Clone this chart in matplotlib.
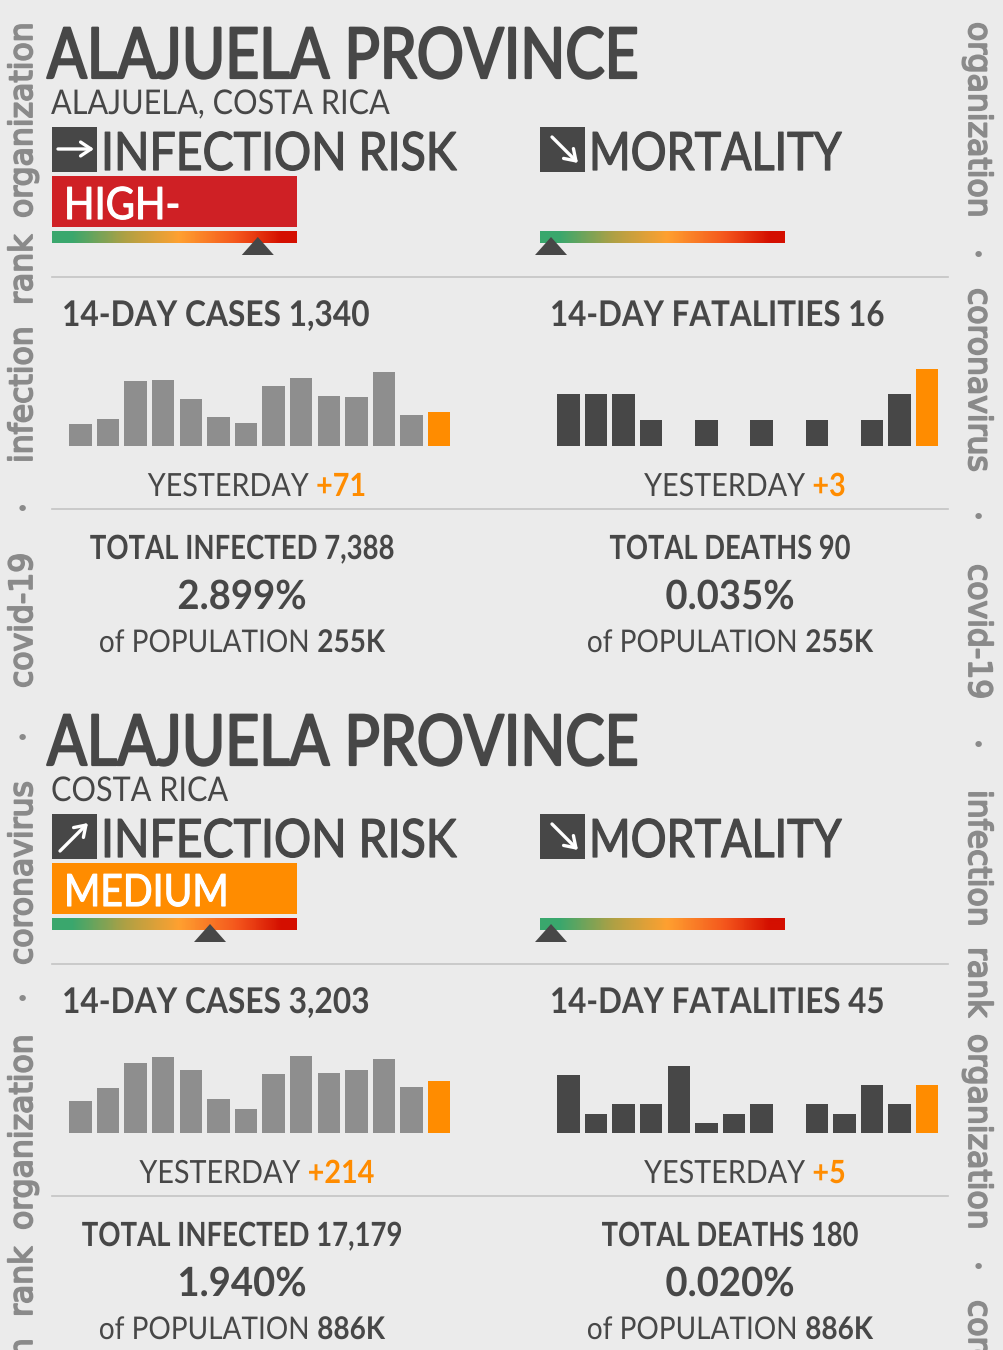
import matplotlib
matplotlib.use("Agg")
import matplotlib.pyplot as plt
import matplotlib.patheffects as pe
from matplotlib.colors import LinearSegmentedColormap
from matplotlib.patches import Polygon, Rectangle
from matplotlib.transforms import Affine2D
import numpy as np

W, H = 1004, 1350
BG = "#ebebeb"
DARK = "#474747"
GREY = "#8e8e8e"
ORANGE = "#ff8c00"
RED = "#cf2025"
RULE = "#c4c4c4"
SIDE = "#8a8a8a"

cases_a = [46, 55, 136, 137, 98, 60, 48, 125, 142, 104, 101, 153, 64, 71]
deaths_a = [2, 2, 2, 1, 0, 1, 0, 1, 0, 1, 0, 1, 2, 3]
cases_b = [130, 185, 289, 316, 261, 142, 99, 246, 320, 247, 260, 306, 188, 214]
deaths_b = [6, 2, 3, 3, 7, 1, 2, 3, 0, 3, 2, 5, 3, 5]

# risk marker position along the gradient bar, 0 to 1
risk_a = [0.84, 0.045]
risk_b = [0.645, 0.045]

plt.rcParams["font.family"] = ["Lato", "DejaVu Sans"]
SIDE_FONT = ["DejaVu Sans"]

fig = plt.figure(figsize=(W / 100, H / 100), dpi=100, facecolor=BG)
page = fig.add_axes([0, 0, 1, 1])
page.set_xlim(0, W)
page.set_ylim(H, 0)
page.axis("off")
renderer = fig.canvas.get_renderer()

grad = LinearSegmentedColormap.from_list(
    "risk", [(0, "#3aa76d"), (0.08, "#3aa76d"), (0.3, "#b0a044"), (0.52, "#ffa030"),
             (0.76, "#f4551c"), (0.94, "#d40f00"), (1, "#d40f00")])


class Squeezed(pe.AbstractPathEffect):
    # no condensed face is installed, so narrow the glyphs along the text direction
    def __init__(self, sx, stroke=0.0, color=None):
        super().__init__()
        self.sx = sx
        self.stroke = stroke
        self.color = color

    def draw_path(self, rend, gc, tpath, affine, rgbFace=None):
        m = affine.get_matrix().copy()
        m[0:2, 0] *= self.sx
        squeezed = Affine2D(m)
        if self.stroke:
            gc0 = rend.new_gc()
            gc0.copy_properties(gc)
            gc0.set_linewidth(self.stroke)
            gc0.set_foreground(self.color)
            rend.draw_path(gc0, tpath, squeezed, rgbFace)
            gc0.restore()
        rend.draw_path(gc, tpath, squeezed, rgbFace)


def label(x, y, s, size, sx=1.0, color=DARK, center=False, weight="normal", stroke=0.0):
    t = page.text(x, y, s, fontsize=size, color=color, va="baseline", weight=weight)
    t.set_path_effects([Squeezed(sx, stroke, color)])
    width = t.get_window_extent(renderer).width * sx
    if center:
        t.set_x(x - width / 2)
    return width


def pair(cx, y, left, right, right_color, size, sx):
    # two pieces of text centred together on cx
    wa = label(0, y, left + " ", size, sx)
    wb = label(0, y, right, size, sx, color=right_color, weight="bold")
    a, b = page.texts[-2:]
    x0 = cx - (wa + wb) / 2
    a.set_x(x0)
    b.set_x(x0 + wa)


def bars(x0, base, values, color, top_px):
    pitch = 27.6
    ax = fig.add_axes([(x0 - 2.65) / W, 1 - base / H, 14 * pitch / W, top_px / H])
    ax.set_xlim(-0.5, 13.5)
    ax.set_ylim(0, max(values))
    ax.axis("off")
    colors = [color] * 13 + [ORANGE]
    ax.bar(range(14), values, width=0.81, color=colors)


def gauge(x, y, frac):
    page.imshow(np.linspace(0, 1, 245).reshape(1, -1), cmap=grad, aspect="auto",
                extent=(x, x + 245, y + 12, y), zorder=2)
    mx = x + 245 * frac
    page.add_patch(Polygon([(mx - 16, y + 24), (mx, y + 6), (mx + 16, y + 24)],
                           facecolor=DARK, lw=0, zorder=3))


def icon(x, y, start, end):
    page.add_patch(Rectangle((x, y), 45, 45, facecolor=DARK, lw=0))
    page.annotate("", xy=(x + end[0], y + end[1]), xytext=(x + start[0], y + start[1]),
                  arrowprops=dict(arrowstyle="->,head_length=0.75,head_width=0.5", color="white", lw=2.4,
                                  shrinkA=0, shrinkB=0))


def panel(y, sub, arrow, level, level_sx, level_color, risk, cases, deaths, c_total, d_total,
          yest_c, yest_d, tot_i, pct_i, tot_d, pct_d, pop):
    label(47, y + 78, "ALAJUELA PROVINCE", 50.5, 0.84, stroke=1.6)
    label(51, y + 114, sub, 24.5, 0.9)
    icon(52, y + 127, *arrow)
    label(101, y + 170, "INFECTION RISK", 38, 0.88, stroke=0.9)
    icon(540, y + 127, (12, 10), (38, 36))
    label(589, y + 170, "MORTALITY", 38, 0.85, stroke=0.9)
    page.add_patch(Rectangle((52, y + 176), 245, 51, facecolor=level_color, lw=0))
    label(64, y + 219, level, 32, level_sx, color="white", stroke=0.8)
    gauge(52, y + 231, risk[0])
    gauge(540, y + 231, risk[1])
    page.plot([52, 948], [y + 277, y + 277], color=RULE, lw=1.2)
    label(62, y + 326, c_total, 25.5, 0.895, weight="bold")
    label(550, y + 326, d_total, 25.5, 0.885, weight="bold")
    bars(69.3, y + 445.7, cases[0], GREY, cases[1])
    bars(557.3, y + 445.7, deaths[0], DARK, deaths[1])
    pair(257, y + 496, "YESTERDAY", yest_c, ORANGE, 23, 0.9)
    pair(745, y + 496, "YESTERDAY", yest_d, ORANGE, 23, 0.9)
    page.plot([52, 948], [y + 509, y + 509], color=RULE, lw=1.2)
    label(242, y + 559, tot_i, 24, 0.826, center=True, weight="bold")
    label(730, y + 559, tot_d, 24, 0.82, center=True, weight="bold")
    label(242, y + 609, pct_i, 29, 0.95, center=True, weight="bold")
    label(730, y + 609, pct_d, 29, 0.95, center=True, weight="bold")
    pair(242, y + 652, "of POPULATION", pop, DARK, 22.5, 0.895)
    pair(730, y + 652, "of POPULATION", pop, DARK, 22.5, 0.895)


panel(0, "ALAJUELA, COSTA RICA", ((6, 22), (42, 22)), "HIGH-", 0.9, RED, risk_a,
      (cases_a, 73.3), (deaths_a, 77), "14-DAY CASES 1,340", "14-DAY FATALITIES 16",
      "+71", "+3", "TOTAL INFECTED 7,388", "2.899%", "TOTAL DEATHS 90", "0.035%", "255K")
panel(687, "COSTA RICA", ((8, 37), (36, 9)), "MEDIUM", 0.88, ORANGE, risk_b,
      (cases_b, 77), (deaths_b, 67), "14-DAY CASES 3,203", "14-DAY FATALITIES 45",
      "+214", "+5", "TOTAL INFECTED 17,179", "1.940%", "TOTAL DEATHS 180", "0.020%", "886K")

# side strips, each word anchored at the point where it starts
left_words = [("organization", 218), ("rank", 305), ("infection", 463), ("covid-19", 688),
              ("coronavirus", 965), ("organization", 1230), ("rank", 1317), ("infection", 1475)]
for word, y in left_words:
    page.text(32, y, word, fontsize=23, color=SIDE, rotation=90, ha="left", va="baseline",
              rotation_mode="anchor", family=SIDE_FONT, clip_on=True).set_path_effects(
        [Squeezed(0.985, 1.3, SIDE)])
for y in [510, 739, 1000]:
    page.text(22, y, "•", fontsize=16, color=SIDE, ha="center", va="center", family=SIDE_FONT)

right_words = [("organization", 22), ("coronavirus", 288), ("covid-19", 564), ("infection", 790),
               ("rank", 947), ("organization", 1034), ("coronavirus", 1300)]
for word, y in right_words:
    page.text(969, y, word, fontsize=23, color=SIDE, rotation=270, ha="left", va="baseline",
              rotation_mode="anchor", family=SIDE_FONT, clip_on=True).set_path_effects(
        [Squeezed(0.985, 1.3, SIDE)])
for y in [256, 518, 746, 1268]:
    page.text(978, y, "•", fontsize=16, color=SIDE, ha="center", va="center", family=SIDE_FONT)

page.set_xlim(0, W)
page.set_ylim(H, 0)
fig.savefig("out.png", dpi=100, facecolor=BG)
